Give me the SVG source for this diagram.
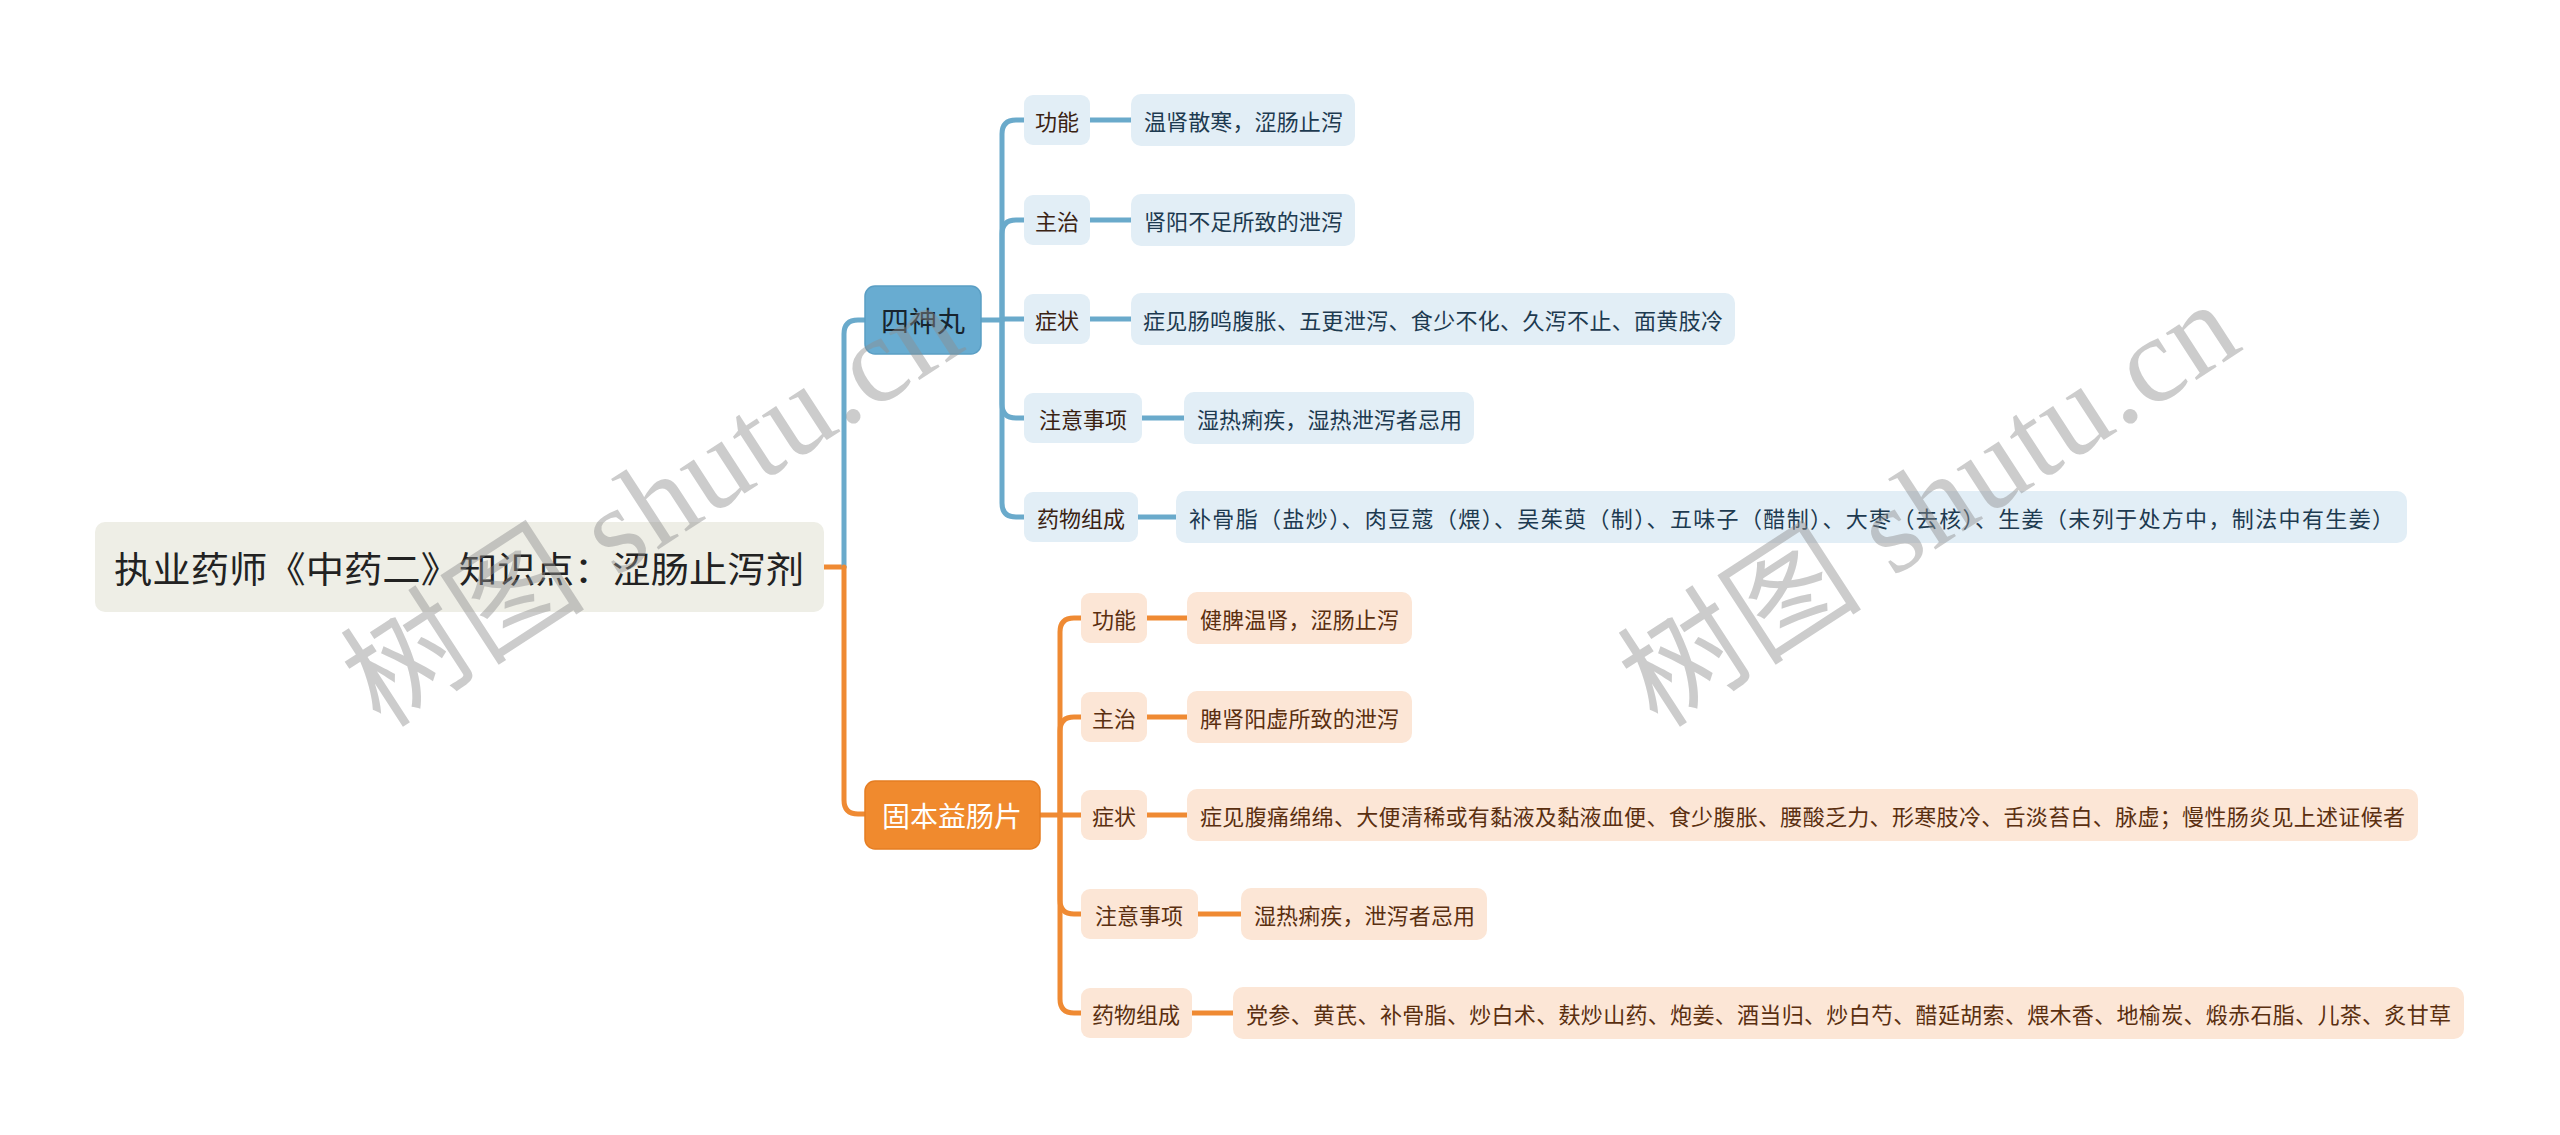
<svg xmlns="http://www.w3.org/2000/svg" width="2560" height="1135" viewBox="0 0 2560 1135">
<style>
text{font-family:"Noto Sans CJK SC","Noto Sans",sans-serif;dominant-baseline:central}
.root{fill:#eeeee6}
.rootT{font-size:36px;fill:#222}
.bMain{fill:#68acd1;stroke:#5a9ec4;stroke-width:1.5}
.bMainT{font-size:28px;fill:#17242e}
.oMain{fill:#f08a2e;stroke:#e57d22;stroke-width:1.5}
.oMainT{font-size:28px;fill:#fff}
.bBox{fill:#e2eef6}
.oBox{fill:#fce6d6}
.bLab{font-size:22px;fill:#3a2212}
.bLeaf{font-size:22px;fill:#1d3a50}
.oT{font-size:22px;fill:#5a2f10}
.bl{fill:none;stroke:#6aaacb;stroke-width:5;stroke-linecap:round}
.ol{fill:none;stroke:#ef8a33;stroke-width:5;stroke-linecap:round}
.wm{font-family:"Liberation Serif","Noto Sans CJK SC",serif;font-size:122px;fill:#8f8f8f;opacity:0.45}
</style>
<rect width="2560" height="1135" fill="#fff"/>
<g id="connectors">
<path class="ol" d="M824 567 H844"/>
<path class="bl" d="M844 567 V334 Q844 320 858 320 H866"/>
<path class="ol" d="M844 567 V800 Q844 814 858 814 H866"/>
<path class="bl" d="M981 320 H1002"/>
<path class="bl" d="M1002 320 V134 Q1002 120 1016 120 H1024"/>
<path class="bl" d="M1002 320 V234 Q1002 220 1016 220 H1024"/>
<path class="bl" d="M1002 319 H1024"/>
<path class="bl" d="M1002 320 V404 Q1002 418 1016 418 H1024"/>
<path class="bl" d="M1002 320 V503 Q1002 517 1016 517 H1024"/>
<path class="bl" d="M1090 120 H1131"/>
<path class="bl" d="M1090 220 H1131"/>
<path class="bl" d="M1090 319 H1131"/>
<path class="bl" d="M1142 418 H1184"/>
<path class="bl" d="M1138 517 H1176"/>
<path class="ol" d="M1040 815 H1060"/>
<path class="ol" d="M1060 815 V632 Q1060 618 1074 618 H1081"/>
<path class="ol" d="M1060 815 V731 Q1060 717 1074 717 H1081"/>
<path class="ol" d="M1060 815 H1081"/>
<path class="ol" d="M1060 815 V900 Q1060 914 1074 914 H1081"/>
<path class="ol" d="M1060 815 V999 Q1060 1013 1074 1013 H1081"/>
<path class="ol" d="M1147 618 H1187"/>
<path class="ol" d="M1147 717 H1187"/>
<path class="ol" d="M1147 815 H1187"/>
<path class="ol" d="M1198 914 H1241"/>
<path class="ol" d="M1192 1013 H1233"/>
</g>
<g id="root"><rect class="root" x="95" y="522" width="729" height="90" rx="10"/><text class="rootT" x="114" y="567" textLength="690" lengthAdjust="spacingAndGlyphs">执业药师《中药二》知识点：涩肠止泻剂</text></g>
<g id="n-sishen"><rect class="bMain" x="865" y="286" width="116" height="68" rx="10"/><text class="bMainT" x="923" y="320" text-anchor="middle">四神丸</text></g>
<g id="n-guben"><rect class="oMain" x="865" y="781" width="175" height="68" rx="10"/><text class="oMainT" x="952" y="815" text-anchor="middle">固本益肠片</text></g>

<g id="b-gn"><rect class="bBox" x="1024" y="95" width="66" height="50" rx="9"/><text class="bLab" x="1057" y="120" text-anchor="middle">功能</text></g>
<g id="b-zz"><rect class="bBox" x="1024" y="195" width="66" height="50" rx="9"/><text class="bLab" x="1057" y="220" text-anchor="middle">主治</text></g>
<g id="b-zx"><rect class="bBox" x="1024" y="294" width="66" height="50" rx="9"/><text class="bLab" x="1057" y="319" text-anchor="middle">症状</text></g>
<g id="b-zy"><rect class="bBox" x="1024" y="393" width="118" height="50" rx="9"/><text class="bLab" x="1083" y="418" text-anchor="middle">注意事项</text></g>
<g id="b-yw"><rect class="bBox" x="1024" y="492" width="114" height="50" rx="9"/><text class="bLab" x="1081" y="517" text-anchor="middle">药物组成</text></g>

<g id="b-gn-v"><rect class="bBox" x="1131" y="94" width="224" height="52" rx="10"/><text class="bLeaf" x="1144" y="120" textLength="199">温肾散寒，涩肠止泻</text></g>
<g id="b-zz-v"><rect class="bBox" x="1131" y="194" width="224" height="52" rx="10"/><text class="bLeaf" x="1144" y="220" textLength="199">肾阳不足所致的泄泻</text></g>
<g id="b-zx-v"><rect class="bBox" x="1131" y="293" width="604" height="52" rx="10"/><text class="bLeaf" x="1143" y="319" textLength="580">症见肠鸣腹胀、五更泄泻、食少不化、久泻不止、面黄肢冷</text></g>
<g id="b-zy-v"><rect class="bBox" x="1184" y="392" width="290" height="52" rx="10"/><text class="bLeaf" x="1197" y="418" textLength="265">湿热痢疾，湿热泄泻者忌用</text></g>
<g id="b-yw-v"><rect class="bBox" x="1176" y="491" width="1231" height="52" rx="10"/><text class="bLeaf" x="1189" y="517" textLength="1205">补骨脂（盐炒）、肉豆蔻（煨）、吴茱萸（制）、五味子（醋制）、大枣（去核）、生姜（未列于处方中，制法中有生姜）</text></g>

<g id="o-gn"><rect class="oBox" x="1081" y="593" width="66" height="50" rx="9"/><text class="oT" x="1114" y="618" text-anchor="middle">功能</text></g>
<g id="o-zz"><rect class="oBox" x="1081" y="692" width="66" height="50" rx="9"/><text class="oT" x="1114" y="717" text-anchor="middle">主治</text></g>
<g id="o-zx"><rect class="oBox" x="1081" y="790" width="66" height="50" rx="9"/><text class="oT" x="1114" y="815" text-anchor="middle">症状</text></g>
<g id="o-zy"><rect class="oBox" x="1081" y="889" width="117" height="50" rx="9"/><text class="oT" x="1139" y="914" text-anchor="middle">注意事项</text></g>
<g id="o-yw"><rect class="oBox" x="1081" y="988" width="111" height="50" rx="9"/><text class="oT" x="1136" y="1013" text-anchor="middle">药物组成</text></g>

<g id="o-gn-v"><rect class="oBox" x="1187" y="592" width="225" height="52" rx="10"/><text class="oT" x="1200" y="618" textLength="199">健脾温肾，涩肠止泻</text></g>
<g id="o-zz-v"><rect class="oBox" x="1187" y="691" width="225" height="52" rx="10"/><text class="oT" x="1200" y="717" textLength="199">脾肾阳虚所致的泄泻</text></g>
<g id="o-zx-v"><rect class="oBox" x="1187" y="789" width="1231" height="52" rx="10"/><text class="oT" x="1200" y="815" textLength="1205">症见腹痛绵绵、大便清稀或有黏液及黏液血便、食少腹胀、腰酸乏力、形寒肢冷、舌淡苔白、脉虚；慢性肠炎见上述证候者</text></g>
<g id="o-zy-v"><rect class="oBox" x="1241" y="888" width="246" height="52" rx="10"/><text class="oT" x="1254" y="914" textLength="221">湿热痢疾，泄泻者忌用</text></g>
<g id="o-yw-v"><rect class="oBox" x="1233" y="987" width="1231" height="52" rx="10"/><text class="oT" x="1246" y="1013" textLength="1205">党参、黄芪、补骨脂、炒白术、麸炒山药、炮姜、酒当归、炒白芍、醋延胡索、煨木香、地榆炭、煅赤石脂、儿茶、炙甘草</text></g>

<g id="watermark">
<text class="wm" transform="translate(652,504) rotate(-33)" text-anchor="middle" textLength="700">树图 shutu.cn</text>
<text class="wm" transform="translate(1929,504) rotate(-33)" text-anchor="middle" textLength="700">树图 shutu.cn</text>
</g>
</svg>
